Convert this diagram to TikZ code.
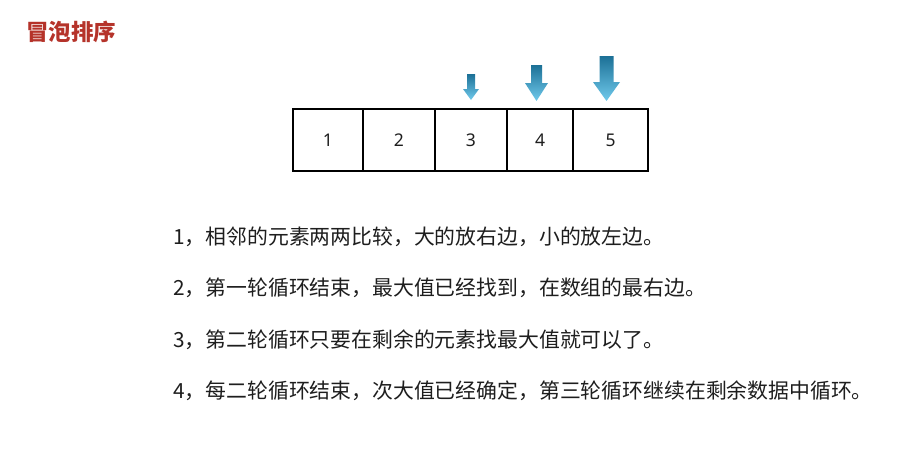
\documentclass[tikz,border=0pt]{standalone}
\usepackage{fontspec}
\setmainfont{Noto Sans}
\newfontfamily\cjk{Noto Sans CJK SC}
\definecolor{titlered}{RGB}{181,51,42}
\definecolor{txt}{RGB}{30,30,30}
\definecolor{arrtop}{RGB}{28,112,150}
\definecolor{arrbot}{RGB}{112,202,236}
\begin{document}
\begin{tikzpicture}[x=1pt,y=-1pt,
  cell/.style={draw=black,line width=2pt,minimum height=62pt,inner sep=0pt,
    font=\fontsize{17.5}{20}\selectfont,text=txt},
  line/.style={anchor=west,inner sep=0pt,text=txt,font=\cjk\fontsize{20.85}{24}\selectfont},
  ptr/.style={top color=arrtop,bottom color=arrbot,draw=none}]
\useasboundingbox[fill=white] (0,0) rectangle (916,458);
\node[anchor=west,inner sep=0pt,text=titlered,font=\cjk\bfseries\fontsize{22.5}{26}\selectfont] (title) at (26,32) {冒泡排序};
% cells
\node[cell,minimum width=70pt] (c1) at (328,140) {1};
\node[cell,minimum width=72pt] (c2) at (399,140) {2};
\node[cell,minimum width=72pt] (c3) at (471,140) {3};
\node[cell,minimum width=66pt] (c4) at (540,140) {4};
\node[cell,minimum width=75pt] (c5) at (610.5,140) {5};
% pointers
\shade[ptr] (467,74) -- (475,74) -- (475,89) -- (479,89) -- (471,100) -- (463,89) -- (467,89) -- cycle;
\shade[ptr] (531,65) -- (542,65) -- (542,83) -- (548,83) -- (536.5,101) -- (525,83) -- (531,83) -- cycle;
\shade[ptr] (599.5,56) -- (613.5,56) -- (613.5,82) -- (620,82) -- (606.5,101) -- (593,82) -- (599.5,82) -- cycle;
% text lines
\node[line] (l1) at (173,237) {1，相邻的元素两两比较，大的放右边，小的放左边。};
\node[line] (l2) at (173,288) {2，第一轮循环结束，最大值已经找到，在数组的最右边。};
\node[line] (l3) at (173,340) {3，第二轮循环只要在剩余的元素找最大值就可以了。};
\node[line] (l4) at (173,391) {4，每二轮循环结束，次大值已经确定，第三轮循环继续在剩余数据中循环。};
\end{tikzpicture}
\end{document}
